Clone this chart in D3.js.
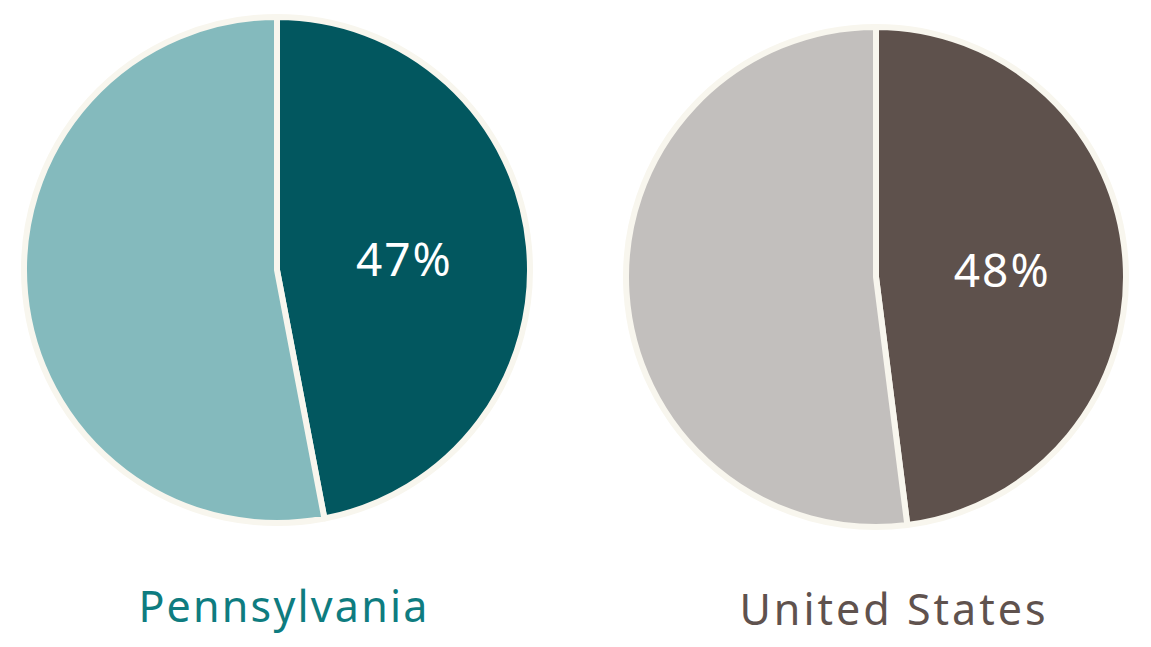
<!DOCTYPE html>
<html><head><meta charset="utf-8">
<script src="https://cdn.jsdelivr.net/npm/d3@7"></script>
<style>body{margin:0;background:#fff;}svg{display:block;}</style>
</head><body>
<svg id="c" width="1151" height="647"></svg>
<script>
const regions = ["Pennsylvania", "United States"];
const shareValues = [47, 48];
const labels = ["47%", "48%"];
const darkColors = ["#02575f", "#5e514c"];
const lightColors = ["#84babd", "#c2bfbd"];
const titleColors = ["#0e7c80", "#5f524e"];

const svg = d3.select("#c");
const centers = [[277, 270], [876, 277]];
const radii = [253, 250];
const titleY = [622, 625];
const titleX = [284, 894];

const pie = d3.pie().sort(null).value(d => d);
const font = "'Noto Sans', 'Open Sans', sans-serif";

regions.forEach((name, i) => {
  const data = pie([shareValues[i], 100 - shareValues[i]]);
  const arc = d3.arc().innerRadius(0).outerRadius(radii[i]);
  const labelArc = d3.arc().innerRadius(radii[i]*0.5).outerRadius(radii[i]*0.5);
  const g = svg.append("g").attr("transform", `translate(${centers[i][0]},${centers[i][1]})`);
  g.selectAll("path").data(data).join("path")
    .attr("d", arc)
    .attr("fill", (d, j) => j === 0 ? darkColors[i] : lightColors[i])
    .attr("stroke", "#f8f6ee")
    .attr("stroke-width", 6)
    .attr("stroke-linejoin", "round");
  const c = labelArc.centroid(data[0]);
  g.append("text")
    .attr("x", c[0] + 1.5).attr("y", c[1])
    .attr("text-anchor", "middle").attr("dominant-baseline", "central")
    .attr("fill", "#ffffff")
    .attr("font-family", font)
    .attr("font-size", 46)
    .attr("letter-spacing", 2)
    .text(labels[i]);
  svg.append("text")
    .attr("x", titleX[i]).attr("y", titleY[i])
    .attr("text-anchor", "middle")
    .attr("fill", titleColors[i])
    .attr("font-family", font)
    .attr("font-size", 43)
    .attr("letter-spacing", i === 0 ? 2.2 : 3)
    .text(name);
});
</script>
</body></html>
